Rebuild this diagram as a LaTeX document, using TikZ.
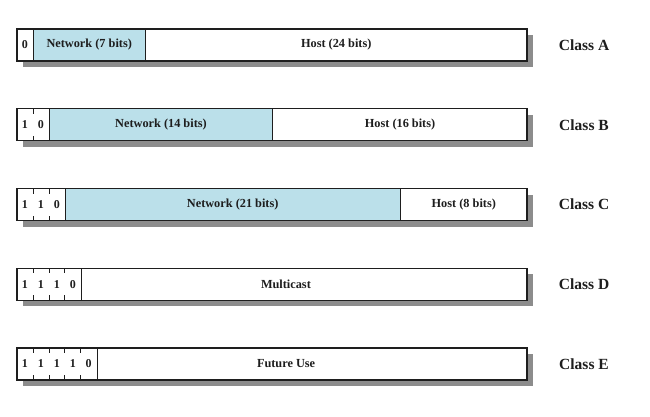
\documentclass[tikz,border=0pt]{standalone}
\usepackage{fontspec}
\setmainfont{Liberation Serif}
\definecolor{netblue}{RGB}{187,224,234}
\definecolor{shadowgray}{RGB}{140,140,140}
\definecolor{ink}{RGB}{30,30,30}
\tikzset{
  field/.style={draw=ink, line width=1pt, rectangle, inner sep=0pt, minimum height=32pt, anchor=west,
    font=\fontsize{12.3}{14}\selectfont\bfseries, text=ink},
  netfield/.style={field, fill=netblue},
  hostfield/.style={field, fill=white},
  bitfield/.style={field, fill=white},
  digit/.style={font=\fontsize{12}{13}\selectfont\bfseries, text=ink, inner sep=0pt},
  tick/.style={draw=ink, line width=0.7pt},
  frame/.style={draw=ink, line width=1.4pt},
  shade/.style={fill=shadowgray},
  classlabel/.style={font=\fontsize{15.5}{18}\selectfont\bfseries, text=ink, inner sep=0pt}
}
\begin{document}
\begin{tikzpicture}[x=1pt,y=-1pt]
\useasboundingbox (0,0) rectangle (650,417);
\def\bw{15.94}
% ---------- Class A ----------
\fill[shade] (23,35) rectangle (533,67);
\node[bitfield, minimum width=15.94pt] (Abits) at (17,45) {};
\node[netfield, minimum width=111.58pt] (Anet) at (32.94,45) {Network (7 bits)};
\node[hostfield, minimum width=382.48pt] (Ahost) at (144.52,45) {Host (24 bits)};
\draw[frame] (17,29) rectangle (527,61);
\node[digit] (A0) at (24.97,45) {0};
\node[classlabel] (Alab) at (584,45) {Class A};
% ---------- Class B ----------
\fill[shade] (23,114.75) rectangle (533,146.75);
\node[bitfield, minimum width=31.88pt] (Bbits) at (17,124.75) {};
\node[netfield, minimum width=223.16pt] (Bnet) at (48.88,124.75) {Network (14 bits)};
\node[hostfield, minimum width=254.96pt] (Bhost) at (272.04,124.75) {Host (16 bits)};
\draw[frame] (17,108.75) rectangle (527,140.75);
\foreach \k in {1}{
  \draw[tick] (17+\k*\bw,108.75) -- ++(0,5);
  \draw[tick] (17+\k*\bw,140.75) -- ++(0,-5);
}
\node[digit] (B1) at (24.97,124.75) {1};
\node[digit] (B2) at (40.91,124.75) {0};
\node[classlabel] (Blab) at (584,124.75) {Class B};
% ---------- Class C ----------
\fill[shade] (23,194.5) rectangle (533,226.5);
\node[bitfield, minimum width=47.82pt] (Cbits) at (17,204.5) {};
\node[netfield, minimum width=334.74pt] (Cnet) at (64.82,204.5) {Network (21 bits)};
\node[hostfield, minimum width=127.44pt] (Chost) at (399.56,204.5) {Host (8 bits)};
\draw[frame] (17,188.5) rectangle (527,220.5);
\foreach \k in {1,2}{
  \draw[tick] (17+\k*\bw,188.5) -- ++(0,5);
  \draw[tick] (17+\k*\bw,220.5) -- ++(0,-5);
}
\node[digit] (C1) at (24.97,204.5) {1};
\node[digit] (C2) at (40.91,204.5) {1};
\node[digit] (C3) at (56.85,204.5) {0};
\node[classlabel] (Clab) at (584,204.5) {Class C};
% ---------- Class D ----------
\fill[shade] (23,274.25) rectangle (533,306.25);
\node[bitfield, minimum width=63.76pt] (Dbits) at (17,284.25) {};
\node[hostfield, minimum width=446.24pt] (Drest) at (80.76,284.25) {};
\node[field, draw=none] (Dtext) at (260.5,284.25) {Multicast};
\draw[frame] (17,268.25) rectangle (527,300.25);
\foreach \k in {1,2,3}{
  \draw[tick] (17+\k*\bw,268.25) -- ++(0,5);
  \draw[tick] (17+\k*\bw,300.25) -- ++(0,-5);
}
\node[digit] (D1) at (24.97,284.25) {1};
\node[digit] (D2) at (40.91,284.25) {1};
\node[digit] (D3) at (56.85,284.25) {1};
\node[digit] (D4) at (72.79,284.25) {0};
\node[classlabel] (Dlab) at (584,284.25) {Class D};
% ---------- Class E ----------
\fill[shade] (23,354) rectangle (533,386);
\node[bitfield, minimum width=79.7pt] (Ebits) at (17,364) {};
\node[hostfield, minimum width=430.3pt] (Erest) at (96.7,364) {};
\node[field, draw=none] (Etext) at (256.5,364) {Future Use};
\draw[frame] (17,348) rectangle (527,380);
\foreach \k in {1,2,3,4}{
  \draw[tick] (17+\k*\bw,348) -- ++(0,5);
  \draw[tick] (17+\k*\bw,380) -- ++(0,-5);
}
\node[digit] (E1) at (24.97,364) {1};
\node[digit] (E2) at (40.91,364) {1};
\node[digit] (E3) at (56.85,364) {1};
\node[digit] (E4) at (72.79,364) {1};
\node[digit] (E5) at (88.73,364) {0};
\node[classlabel] (Elab) at (584,364) {Class E};
\end{tikzpicture}
\end{document}
